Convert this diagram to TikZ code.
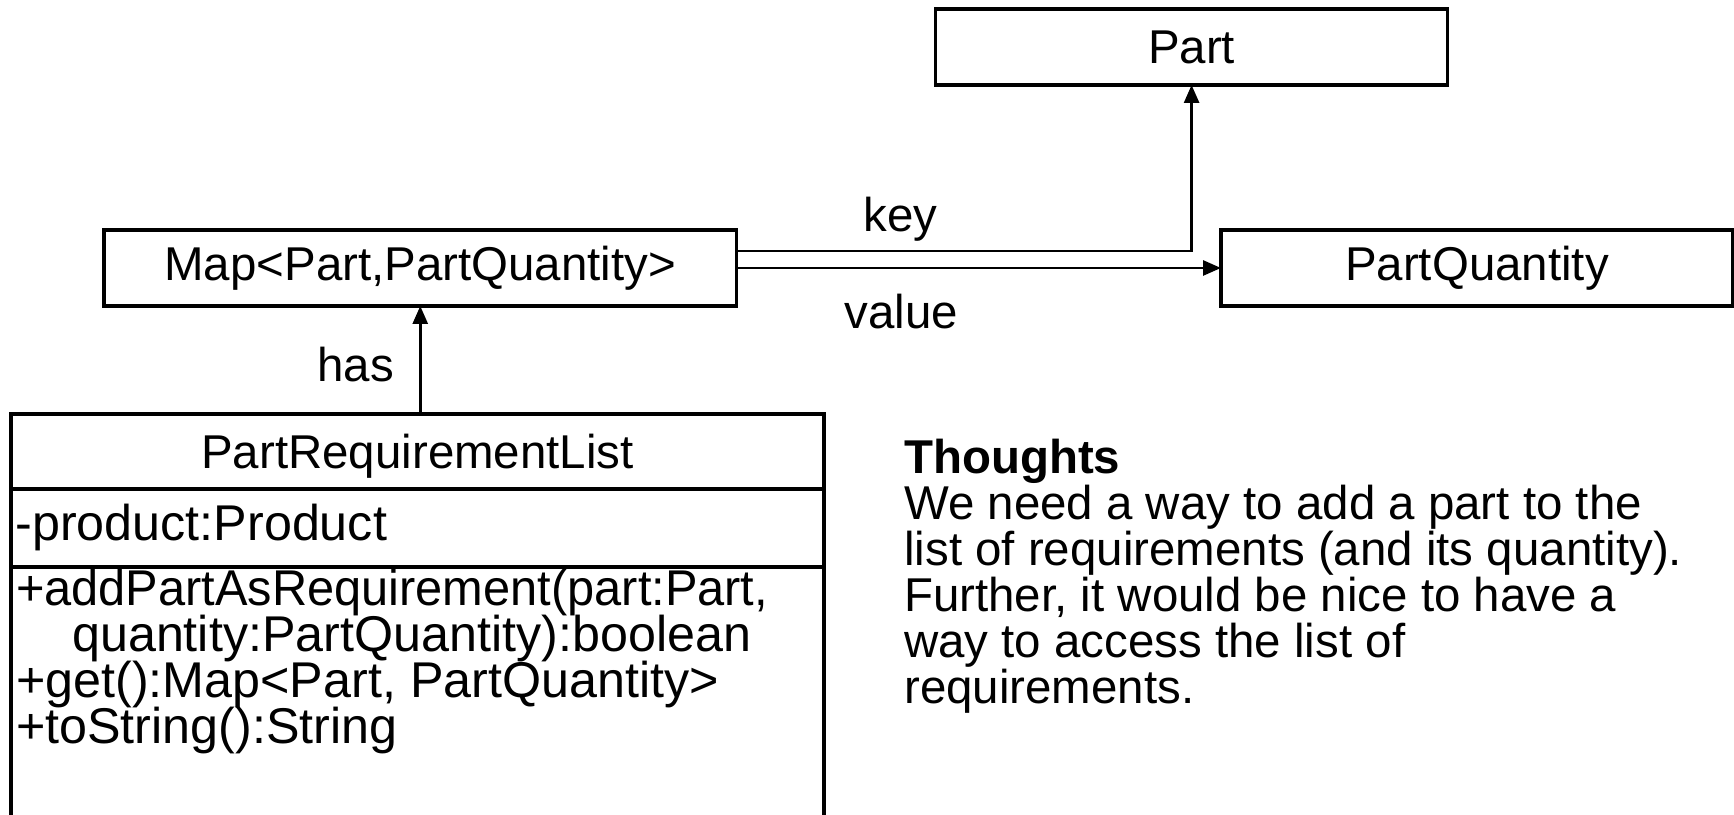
\documentclass[tikz,border=0pt]{standalone}
\usepackage{graphicx}
\usepackage{fontspec}
\setmainfont{Liberation Sans}
\usetikzlibrary{positioning,arrows.meta}

% members are set a little larger, with tight line spacing
\newcommand\membfont{\fontsize{14.3}{13.1}\selectfont\lineskiplimit=-5pt\relax}

\tikzset{
  uml/.style={font=\fontsize{13.5}{13.1}\selectfont},
  member/.style={font=\membfont},
  classbox/.style={uml, draw, line width=0.9pt, inner sep=0pt, outer sep=0pt, minimum height=0.76cm},
  assoc/.style={line width=0.8pt, -{Triangle[length=1.8mm,width=1.5mm]}},
  lbl/.style={uml, inner sep=0pt},
}

\begin{document}
\begin{tikzpicture}
\useasboundingbox (0,0) rectangle (17.34,-8.15);
\clip (0,0) rectangle (17.34,-8.15);

% classes
\node[classbox, minimum width=5.12cm] (part) at (11.916,-0.47) {Part};
\node[classbox, minimum width=6.325cm] (map) at (4.2025,-2.68) {Map<Part,PartQuantity>};
\node[classbox, minimum width=5.12cm] (quantity) at (14.77,-2.68) {PartQuantity};

% PartRequirementList: name, attributes, operations
\node[classbox, minimum width=8.13cm, minimum height=0.75cm, text depth=0pt] (prl) at (4.175,-4.515) {PartRequirementList};
\node[classbox, member, below=0pt of prl, inner xsep=0.45mm, text width=8.04cm, minimum height=0.78cm, align=left] (prlattr) {-product:Product};
\node[classbox, below=0pt of prlattr, minimum width=8.13cm, minimum height=3cm] (prlops) {};
\node[lbl, member, anchor=north west, align=left] (prlopstext) at ([xshift=0.45mm,yshift=-0.1mm]prlops.north west)
  {\scalebox{0.97}[1]{+addPartAsRequirement(part:Part,}\\
   \hspace*{5.6mm}quantity:PartQuantity):boolean\\
   +get():Map<Part, PartQuantity>\\
   +toString():String};

% note
\node[lbl, anchor=north west, align=left] (thoughts) at (9.035,-4.38)
  {\textbf{Thoughts}\\
   We need a way to add a part to the\\
   list of requirements (and its quantity).\\
   Further, it would be nice to have a\\
   way to access the list of\\
   requirements.};

% associations
\draw[assoc] ([yshift=1.7mm]map.east) -| node[lbl, pos=0.18, above=0.8mm] (keylbl) {key} (part.south);
\draw[assoc] (map) -- node[lbl, pos=0.34, below=2.5mm] (valuelbl) {value} (quantity);
\draw[assoc] (map.south |- prl.north) -- node[lbl, pos=0.46, left=2.5mm] (haslbl) {has} (map.south);
\end{tikzpicture}
\end{document}
